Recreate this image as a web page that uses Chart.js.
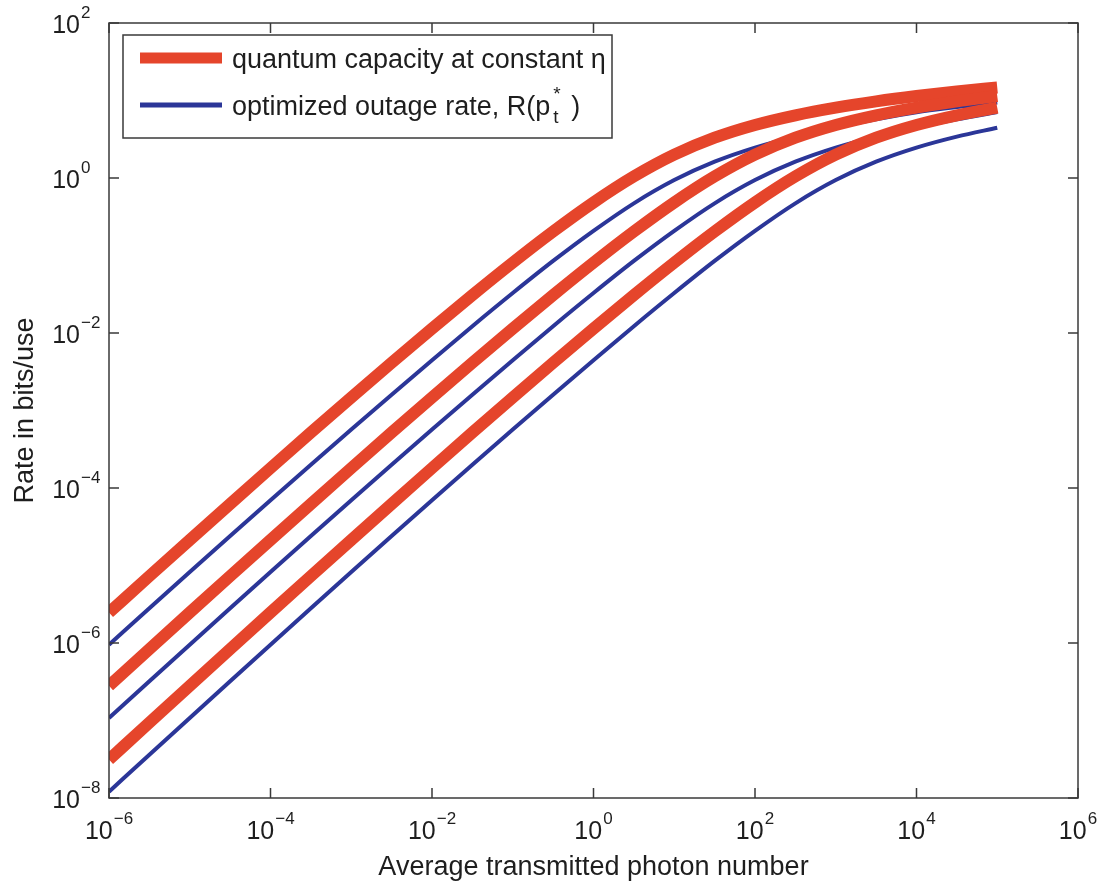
<!DOCTYPE html>
<html>
<head>
<meta charset="utf-8">
<title>Rate vs photon number</title>
<script src="https://cdn.jsdelivr.net/npm/chart.js@4.4.0/dist/chart.umd.min.js"></script>
<style>
    html, body { margin: 0; padding: 0; background: #fff; }
    canvas { display: block; }
</style>
</head>
<body>
<canvas id="rate-chart" width="1103" height="881"></canvas>
<script>
    // Data (x: photon number, y: bits/use)
    var photonNumber = [1e-6, 3.162e-6, 1e-5, 3.162e-5, 1e-4, 3.162e-4, 1e-3, 3.162e-3, 1e-2, 3.162e-2,
        0.1, 0.3162, 1, 3.162, 10, 31.62, 100, 316.2, 1e3, 3162, 1e4, 31620, 1e5];

    // quantum capacity at constant eta (three loss levels)
    var capacityHigh = [2.470e-6, 7.284e-6, 2.137e-5, 6.234e-5, 1.805e-4, 5.184e-4, 1.473e-3, 4.133e-3, 1.141e-2, 3.083e-2,
        8.094e-2, 0.2039, 0.4835, 1.047, 2.000, 3.310, 4.834, 6.448, 8.093, 9.750, 11.41, 13.07, 14.73];
    var capacityMid = [2.802e-7, 8.334e-7, 2.470e-6, 7.284e-6, 2.137e-5, 6.234e-5, 1.805e-4, 5.184e-4, 1.473e-3, 4.133e-3,
        1.141e-2, 3.083e-2, 8.094e-2, 0.2039, 0.4835, 1.047, 2.000, 3.310, 4.834, 6.448, 8.093, 9.750, 11.41];
    var capacityLow = [3.134e-8, 9.385e-8, 2.802e-7, 8.334e-7, 2.470e-6, 7.284e-6, 2.137e-5, 6.234e-5, 1.805e-4, 5.184e-4,
        1.473e-3, 4.133e-3, 1.141e-2, 3.083e-2, 8.094e-2, 0.2039, 0.4835, 1.047, 2.000, 3.310, 4.834, 6.448, 8.093];

    // optimized outage rate R(p_t*)
    var outageHigh = [9.510e-7, 2.804e-6, 8.227e-6, 2.400e-5, 6.949e-5, 1.996e-4, 5.671e-4, 1.599e-3, 4.450e-3, 1.224e-2,
        3.278e-2, 8.503e-2, 0.2079, 0.4712, 0.940, 1.622, 2.465, 3.417, 4.451, 5.704, 7.074, 8.234, 9.427];
    var outageMid = [1.079e-7, 3.209e-7, 9.510e-7, 2.804e-6, 8.227e-6, 2.400e-5, 6.949e-5, 1.996e-4, 5.671e-4, 1.599e-3,
        4.450e-3, 1.224e-2, 3.278e-2, 8.503e-2, 0.2079, 0.4712, 0.940, 1.622, 2.465, 3.417, 4.451, 5.704, 7.074];
    var outageLow = [1.207e-8, 3.613e-8, 1.079e-7, 3.209e-7, 9.510e-7, 2.804e-6, 8.227e-6, 2.400e-5, 6.949e-5, 1.996e-4,
        5.671e-4, 1.599e-3, 4.450e-3, 1.224e-2, 3.278e-2, 8.503e-2, 0.2079, 0.4712, 0.940, 1.622, 2.465, 3.417, 4.451];

    // tick labels (powers of ten)
    var xTickExponents = [-6, -4, -2, 0, 2, 4, 6];
    var yTickExponents = [-8, -6, -4, -2, 0, 2];

    var xTitle = 'Average transmitted photon number';
    var yTitle = 'Rate in bits/use';
    var legendCapacity = 'quantum capacity at constant \u03b7';
    var legendOutage = 'optimized outage rate, R(p';

    var RED = '#e5452b';
    var BLUE = '#2b3698';
    var INK = '#1e1e1e';
    var AXIS = '#3a3a3a';
    var FONT = '"Liberation Sans", Arial, sans-serif';

    function toPoints(values) {
        return values.map(function (v, i) {
            return {x: photonNumber[i], y: v};
        });
    }

    function redLine(values, order) {
        return {data: toPoints(values), borderColor: RED, borderWidth: 12, order: order};
    }

    function blueLine(values, order) {
        return {data: toPoints(values), borderColor: BLUE, borderWidth: 4, order: order};
    }

    // draws "10" with a raised exponent
    function powerLabel(ctx, exp, x, y, centered) {
        var base = '10';
        var sup = String(exp).replace('-', '\u2212');
        ctx.font = '25px ' + FONT;
        var bw = ctx.measureText(base).width;
        ctx.font = '17px ' + FONT;
        var sw = ctx.measureText(sup).width;
        var left = centered ? x - (bw + 1 + sw) / 2 : x - bw;
        ctx.font = '25px ' + FONT;
        ctx.fillText(base, left, y);
        ctx.font = '17px ' + FONT;
        ctx.fillText(sup, left + bw + 1, y - 15);
    }

    // MATLAB style box, ticks, labels and legend
    var matlabAxes = {
        id: 'matlabAxes',
        afterDraw: function (chart) {
            var ctx = chart.ctx;
            var a = chart.chartArea;
            var xs = chart.scales.x;
            var ys = chart.scales.y;
            ctx.save();

            ctx.strokeStyle = AXIS;
            ctx.lineWidth = 1.5;
            ctx.strokeRect(a.left, a.top, a.right - a.left, a.bottom - a.top);

            ctx.beginPath();
            xTickExponents.forEach(function (e) {
                var px = xs.getPixelForValue(Math.pow(10, e));
                ctx.moveTo(px, a.bottom);
                ctx.lineTo(px, a.bottom - 10);
                ctx.moveTo(px, a.top);
                ctx.lineTo(px, a.top + 10);
            });
            yTickExponents.forEach(function (e) {
                var py = ys.getPixelForValue(Math.pow(10, e));
                ctx.moveTo(a.left, py);
                ctx.lineTo(a.left + 10, py);
                ctx.moveTo(a.right, py);
                ctx.lineTo(a.right - 10, py);
            });
            ctx.stroke();

            ctx.fillStyle = INK;
            ctx.textBaseline = 'alphabetic';
            ctx.textAlign = 'left';
            xTickExponents.forEach(function (e) {
                powerLabel(ctx, e, xs.getPixelForValue(Math.pow(10, e)), a.bottom + 41, true);
            });
            yTickExponents.forEach(function (e) {
                powerLabel(ctx, e, a.left - 29, ys.getPixelForValue(Math.pow(10, e)) + 10, false);
            });

            // axis titles
            ctx.font = '27px ' + FONT;
            ctx.textAlign = 'center';
            ctx.fillText(xTitle, (a.left + a.right) / 2, a.bottom + 77);
            ctx.save();
            ctx.translate(33, (a.top + a.bottom) / 2);
            ctx.rotate(-Math.PI / 2);
            ctx.fillText(yTitle, 0, 0);
            ctx.restore();

            // legend
            var lx = a.left + 14, ly = a.top + 12, lw = 489, lh = 103;
            ctx.fillStyle = '#fff';
            ctx.fillRect(lx, ly, lw, lh);
            ctx.strokeStyle = AXIS;
            ctx.lineWidth = 1.5;
            ctx.strokeRect(lx, ly, lw, lh);

            ctx.lineCap = 'butt';
            ctx.strokeStyle = RED;
            ctx.lineWidth = 11;
            ctx.beginPath();
            ctx.moveTo(lx + 17, ly + 23);
            ctx.lineTo(lx + 99, ly + 23);
            ctx.stroke();
            ctx.strokeStyle = BLUE;
            ctx.lineWidth = 5;
            ctx.beginPath();
            ctx.moveTo(lx + 17, ly + 70);
            ctx.lineTo(lx + 99, ly + 70);
            ctx.stroke();

            ctx.fillStyle = INK;
            ctx.textAlign = 'left';
            ctx.font = '27px ' + FONT;
            var tx = lx + 109;
            ctx.fillText(legendCapacity, tx, ly + 33);
            ctx.fillText(legendOutage, tx, ly + 80);
            var pw = ctx.measureText(legendOutage).width;
            ctx.font = '19px ' + FONT;
            ctx.fillText('t', tx + pw + 3, ly + 88);
            ctx.fillText('*', tx + pw + 3, ly + 65);
            ctx.font = '27px ' + FONT;
            ctx.fillText(')', tx + pw + 21, ly + 80);

            ctx.restore();
        }
    };

    // Rate chart
    var ctx1 = document.getElementById('rate-chart').getContext('2d');
    var rateChart = new Chart(ctx1, {
        type: 'line',
        data: {
            datasets: [
                redLine(capacityHigh, 6),
                blueLine(outageHigh, 5),
                redLine(capacityMid, 4),
                blueLine(outageMid, 3),
                redLine(capacityLow, 2),
                blueLine(outageLow, 1)
            ]
        },
        options: {
            responsive: false,
            devicePixelRatio: 1,
            animation: false,
            layout: {
                padding: {left: 109, right: 25, top: 23, bottom: 83}
            },
            elements: {
                point: {radius: 0, hoverRadius: 0},
                line: {cubicInterpolationMode: 'monotone', fill: false}
            },
            scales: {
                x: {type: 'logarithmic', min: 1e-6, max: 1e6, display: false},
                y: {type: 'logarithmic', min: 1e-8, max: 1e2, display: false}
            },
            plugins: {
                legend: {display: false},
                tooltip: {enabled: false}
            }
        },
        plugins: [matlabAxes]
    });
</script>
</body>
</html>
